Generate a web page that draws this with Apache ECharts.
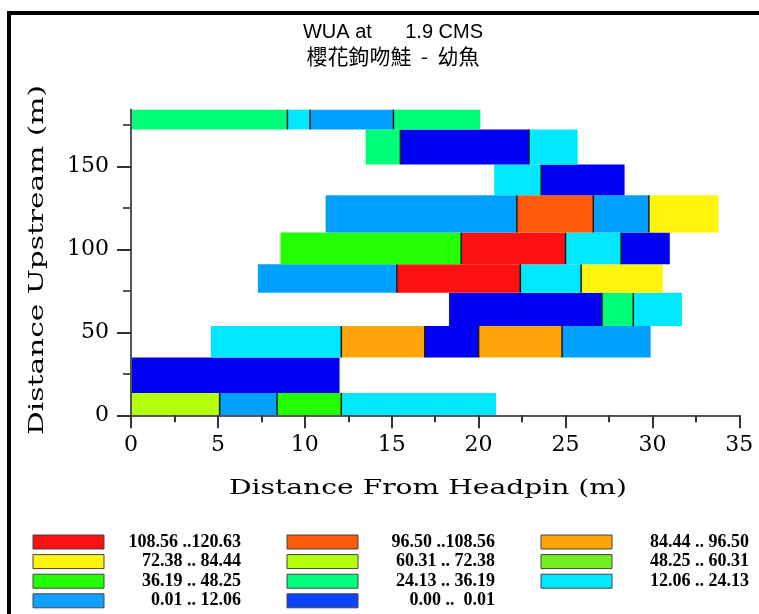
<!DOCTYPE html>
<html><head><meta charset="utf-8">
<script src="https://cdn.jsdelivr.net/npm/echarts@6/dist/echarts.min.js"></script>
<style>html,body{margin:0;padding:0;background:#fff;}#c{width:759px;height:614px;}</style>
</head><body><div id="c"></div>
<script>
// ---- data ----
const titleText = 'WUA at      1.9 CMS';
const subTitleText = '櫻花鉤吻鮭  -  幼魚';
const xAxisTitle = 'Distance From Headpin (m)';
const yAxisTitle = 'Distance Upstream (m)';
const xTicks = [0, 5, 10, 15, 20, 25, 30, 35];
const yTicks = [0, 50, 100, 150];
const yMax = 184.2;

// class legend labels (highest first) and colours
const classLabels = ['108.56 ..120.63', '96.50 ..108.56', '84.44 .. 96.50',
  '72.38 .. 84.44', '60.31 .. 72.38', '48.25 .. 60.31',
  '36.19 .. 48.25', '24.13 .. 36.19', '12.06 .. 24.13',
  '0.01 .. 12.06', '0.00 ..  0.01'];
const classColors = ['#ff1010', '#ff5a0c', '#ffa50c', '#fff40c', '#b4ff0c', '#74ee22',
  '#22ff00', '#00ff78', '#00e8ff', '#00a0ff', '#0000f4'];
const legendColors = ['#ff1010', '#ff5a0c', '#ffa50c', '#fff40c', '#b4ff0c', '#74ee22',
  '#22ff00', '#00ff78', '#00e8ff', '#10a0ff', '#0a44ff'];

// transect rows (bottom to top): row edges in m upstream
const rowEdges = [0, 13.4, 34.9, 53.8, 73.9, 91.1, 110.2, 132.7, 151.2, 172.3, 184.2];
// cell boundaries across each row (m from headpin)
const cellEdges = [
  [0, 5.1, 8.4, 12.1, 21.0],
  [0, 12.0],
  [4.6, 12.1, 16.9, 20.0, 24.8, 29.9],
  [18.3, 27.1, 28.9, 31.7],
  [7.3, 15.3, 22.4, 25.9, 30.6],
  [8.6, 19.0, 25.0, 28.2, 31.0],
  [11.2, 22.2, 26.6, 29.8, 33.8],
  [20.9, 23.6, 28.4],
  [13.5, 15.5, 22.9, 25.7],
  [0, 9.0, 10.3, 15.1, 20.1]
];
// WUA class index of each cell
const cellClasses = [
  [4, 9, 6, 8],
  [10],
  [8, 2, 10, 2, 9],
  [10, 7, 8],
  [9, 0, 8, 3],
  [6, 0, 8, 10],
  [9, 1, 9, 3],
  [8, 10],
  [7, 10, 8],
  [7, 8, 9, 7]
];

// ---- build ----
const cells = [];
cellEdges.forEach((edges, r) => {
  cellClasses[r].forEach((cls, k) => {
    cells.push([edges[k], edges[k + 1], rowEdges[r], rowEdges[r + 1], cls, k === 0 ? 1 : 0]);
  });
});

function measure(text, font) {
  const ctx = document.createElement('canvas').getContext('2d');
  ctx.font = font;
  return ctx.measureText(text).width;
}
const axisTitleFont = '21px "DejaVu Serif"';
const xTitleScale = 398 / measure(xAxisTitle, axisTitleFont);
const yTitleScale = 350 / measure(yAxisTitle, axisTitleFont);

const legendEls = [];
classLabels.forEach((lab, i) => {
  const col = i % 3, row = Math.floor(i / 3);
  const x = 33 + col * 254, y = 535 + row * 19.6;
  legendEls.push({ type: 'rect', shape: { x: x, y: y, width: 71, height: 14 },
    style: { fill: legendColors[i], stroke: '#444', lineWidth: 1 } });
  legendEls.push({ type: 'text', x: x + 208, y: y + 7,
    style: { text: lab, fill: '#000', font: 'bold 18px "Liberation Serif"', textAlign: 'right', textVerticalAlign: 'middle' } });
});

const chart = echarts.init(document.getElementById('c'), null, { renderer: 'canvas' });
const axisFont = { fontFamily: 'DejaVu Serif', fontSize: 22, color: '#000' };
chart.setOption({
  animation: false,
  backgroundColor: '#fff',
  title: {
    text: titleText, subtext: subTitleText,
    left: 388, top: 17, textAlign: 'center', itemGap: 4,
    textStyle: { fontFamily: 'Liberation Sans', fontSize: 20, fontWeight: 'normal', color: '#000' },
    subtextStyle: { fontFamily: 'Noto Sans CJK TC', fontSize: 21, color: '#000' }
  },
  grid: { left: 131, top: 109.7, right: 19.7, bottom: 198.7 },
  xAxis: [{
    type: 'value', min: 0, max: 35, interval: 5, z: 10,
    axisLine: { show: true, onZero: false, lineStyle: { color: '#333', width: 2 } },
    axisTick: { show: true, length: 13, lineStyle: { color: '#333', width: 2 } },
    minorTick: { show: true, splitNumber: 2, length: 7, lineStyle: { color: '#333', width: 2 } },
    splitLine: { show: false },
    axisLabel: Object.assign({ margin: 19 }, axisFont)
  }, {
    type: 'value', position: 'top', min: 0, max: 35, z: 10,
    axisLine: { show: true, lineStyle: { color: '#555', width: 2 } },
    axisTick: { show: false }, axisLabel: { show: false }, splitLine: { show: false }
  }],
  yAxis: [{
    type: 'value', min: 0, max: yMax, interval: 50, z: 10,
    axisLine: { show: true, onZero: false, lineStyle: { color: '#555', width: 2 } },
    axisTick: { show: true, length: 14, customValues: yTicks, lineStyle: { color: '#333', width: 2 } },
    minorTick: { show: true, splitNumber: 2, length: 8, lineStyle: { color: '#555', width: 2 } },
    splitLine: { show: false },
    axisLabel: Object.assign({ margin: 22, customValues: yTicks }, axisFont)
  }, {
    type: 'value', position: 'right', min: 0, max: yMax, z: 10,
    axisLine: { show: true, lineStyle: { color: '#555', width: 2 } },
    axisTick: { show: false }, axisLabel: { show: false }, splitLine: { show: false }
  }],
  series: [{
    type: 'custom',
    data: cells,
    encode: { x: [0, 1], y: [2, 3] },
    renderItem: function (params, api) {
      const p0 = api.coord([api.value(0), api.value(3)]);
      const p1 = api.coord([api.value(1), api.value(2)]);
      const children = [{ type: 'rect',
        shape: { x: p0[0], y: p0[1], width: p1[0] - p0[0], height: p1[1] - p0[1] },
        style: { fill: classColors[api.value(4)] } }];
      if (!api.value(5)) {
        children.push({ type: 'line', shape: { x1: p0[0], y1: p0[1], x2: p0[0], y2: p1[1] },
          style: { stroke: '#1a1a1a', lineWidth: 1.5 } });
      }
      return { type: 'group', children: children };
    }
  }],
  graphic: [
    { type: 'rect', shape: { x: 9, y: 13, width: 800, height: 700 },
      style: { fill: 'none', stroke: '#000', lineWidth: 4 }, z: 100 },
    { type: 'text', x: 428, y: 489, scaleX: xTitleScale, originX: 0, originY: 0,
      style: { text: xAxisTitle, font: axisTitleFont, fill: '#000', textAlign: 'center', textVerticalAlign: 'middle' } },
    { type: 'text', x: 38, y: 260, rotation: Math.PI / 2, scaleX: yTitleScale,
      style: { text: yAxisTitle, font: axisTitleFont, fill: '#000', textAlign: 'center', textVerticalAlign: 'middle' } }
  ].concat(legendEls)
});
</script>
</body></html>
